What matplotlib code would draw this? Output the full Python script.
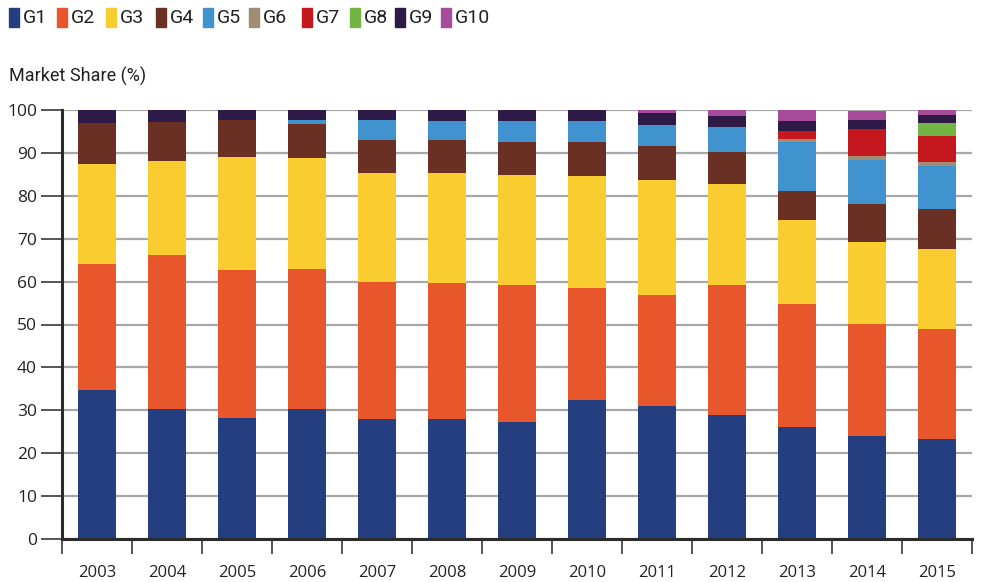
import numpy as np
import matplotlib
matplotlib.use("Agg")
import matplotlib.pyplot as plt
from matplotlib.patches import Rectangle

# market share per group (%)
years = ["2003", "2004", "2005", "2006", "2007", "2008", "2009",
         "2010", "2011", "2012", "2013", "2014", "2015"]
groups = ["G1", "G2", "G3", "G4", "G5", "G6", "G7", "G8", "G9", "G10"]

g1 = [34.7, 30.2, 28.1, 30.2, 27.9, 27.9, 27.2, 32.3, 31.0, 28.8, 26.2, 23.9, 23.4]
g2 = [29.4, 36.0, 34.6, 32.7, 32.0, 31.7, 32.0, 26.2, 25.9, 30.4, 28.6, 26.2, 25.5]
g3 = [23.4, 22.0, 26.4, 26.0, 25.5, 25.8, 25.7, 26.2, 26.8, 23.6, 19.6, 19.2, 18.7]
g4 = [9.5, 9.1, 8.5, 7.9, 7.5, 7.5, 7.7, 7.9, 8.0, 7.3, 6.8, 8.9, 9.3]
g5 = [0.0, 0.0, 0.0, 0.8, 4.8, 4.6, 4.9, 4.9, 4.9, 6.0, 11.4, 10.2, 10.1]
g6 = [0.0, 0.0, 0.0, 0.0, 0.0, 0.0, 0.0, 0.0, 0.0, 0.0, 0.7, 0.9, 0.9]
g7 = [0.0, 0.0, 0.0, 0.0, 0.0, 0.0, 0.0, 0.0, 0.0, 0.0, 1.9, 6.3, 6.1]
g8 = [0.0, 0.0, 0.0, 0.0, 0.0, 0.0, 0.0, 0.0, 0.0, 0.0, 0.0, 0.0, 3.0]
g9 = [3.0, 2.7, 2.4, 2.4, 2.3, 2.5, 2.5, 2.5, 2.8, 2.6, 2.3, 2.1, 1.9]
g10 = [0.0, 0.0, 0.0, 0.0, 0.0, 0.0, 0.0, 0.0, 0.6, 1.3, 2.5, 2.1, 1.1]

series = [g1, g2, g3, g4, g5, g6, g7, g8, g9, g10]
colors = ["#243e7f", "#e8572c", "#f9cd30", "#6a3023", "#4193d0",
          "#a08d73", "#c5171e", "#72b545", "#2e1a47", "#a74c9b"]

title_font = ["Roboto", "DejaVu Sans"]
tick_font = ["Open Sans", "DejaVu Sans"]

fig = plt.figure(figsize=(9.81, 5.82), dpi=100)
W, H = 981, 582
ax = fig.add_axes([62 / W, 1 - 539 / H, 910 / W, 429 / H])

x = np.arange(len(years))
bottom = np.zeros(len(years))
for vals, col, name in zip(series, colors, groups):
    vals = np.array(vals)
    ax.bar(x, vals, width=0.54, bottom=bottom, color=col, label=name, zorder=3)
    bottom += vals

ax.set_xlim(-0.5, len(years) - 0.5)
ax.set_ylim(0, 100)

# grid and spines
ax.set_yticks(np.arange(0, 101, 10))
ax.yaxis.grid(True, color="#a8a8a8", linewidth=1.6, zorder=0)
ax.set_axisbelow(True)
for s in ["top", "right"]:
    ax.spines[s].set_visible(False)
for s in ["left", "bottom"]:
    ax.spines[s].set_linewidth(2.2)
    ax.spines[s].set_color("#2b2b2b")
    ax.spines[s].set_zorder(4)

ax.tick_params(axis="y", length=15, width=1.4, color="#555555", pad=3,
               labelsize=12.5, labelcolor="#222222")
ax.set_xticks(x)
ax.set_xticklabels(years)
ax.set_xticks(np.arange(-0.5, len(years), 1), minor=True)
ax.tick_params(axis="x", which="major", length=0, pad=19,
               labelsize=12, labelcolor="#222222")
ax.tick_params(axis="x", which="minor", length=11, width=1.4, color="#555555")
for lab in ax.get_xticklabels() + ax.get_yticklabels():
    lab.set_family(tick_font)

# legend across the top
leg_x = [9, 57, 106, 156, 203, 249, 302, 350, 395, 441]
for px, col, name in zip(leg_x, colors, groups):
    fig.add_artist(Rectangle((px / W, 1 - 27 / H), 10 / W, 19 / H,
                             transform=fig.transFigure, color=col))
    fig.text((px + 14) / W, 1 - 18 / H, name, family=title_font,
             fontsize=14, va="center", ha="left", color="#222222")

fig.text(9 / W, 1 - 76 / H, "Market Share (%)", family=title_font,
         fontsize=13, va="center", ha="left", color="#222222")

fig.savefig("out.png", dpi=100)
